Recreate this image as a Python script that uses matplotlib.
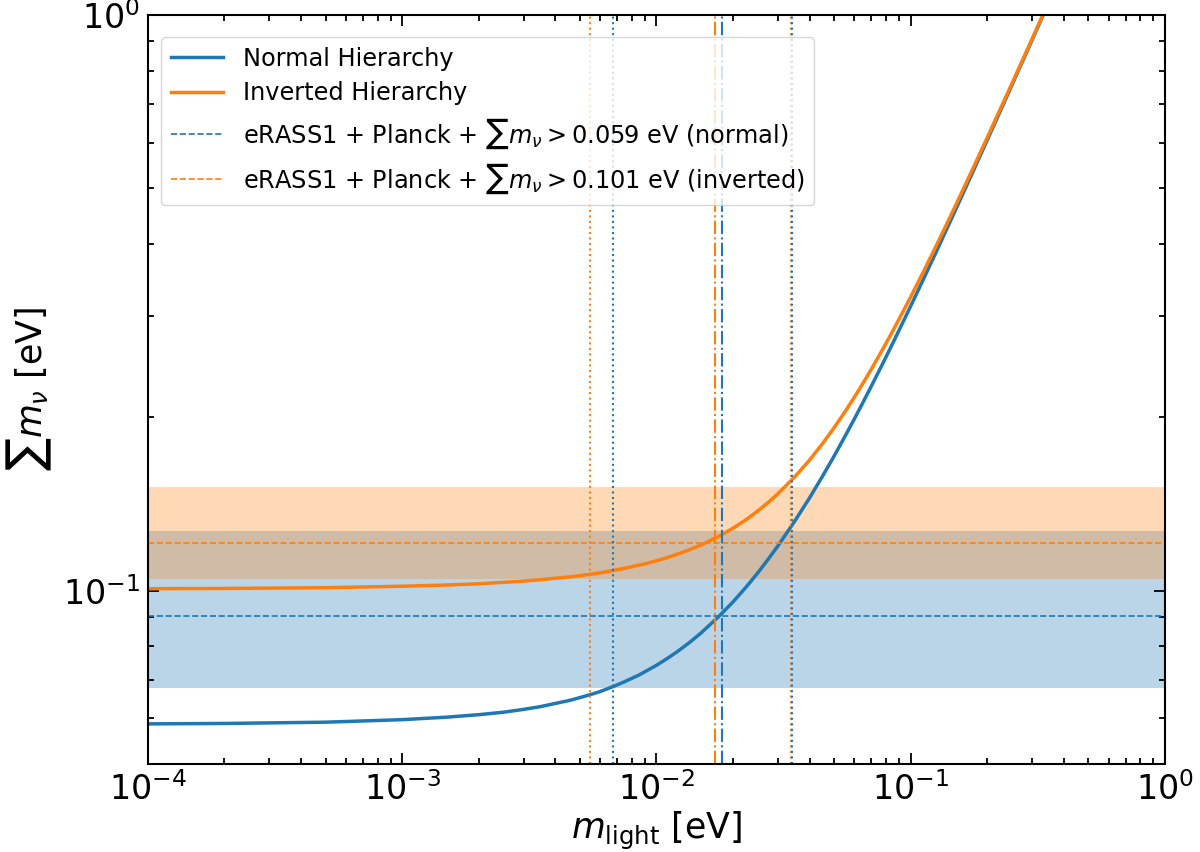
import matplotlib
matplotlib.use("Agg")
import matplotlib.pyplot as plt
from matplotlib.ticker import NullFormatter, LogLocator

# lightest neutrino mass [eV]
m_light = [1e-4, 2e-4, 5e-4, 1e-3, 1.5e-3, 2e-3, 2.5e-3, 3e-3, 3.5e-3, 4e-3,
           4.5e-3, 5e-3, 5.5e-3, 6e-3, 6.5e-3, 7e-3, 7.5e-3, 8.5e-3, 9e-3, 0.01,
           0.011, 0.012, 0.0135, 0.015, 0.0175, 0.02, 0.0225, 0.025, 0.0275, 0.03,
           0.035, 0.04, 0.045, 0.05, 0.055, 0.06, 0.065, 0.07, 0.0775, 0.085,
           0.0925, 0.1, 0.1125, 0.125, 0.1375, 0.15, 0.175, 0.2, 0.25, 0.3, 0.35]
# sum of neutrino masses, normal hierarchy
sum_nh = [0.0587, 0.0588, 0.0591, 0.0597, 0.0603, 0.0609, 0.0615, 0.0622, 0.0629, 0.0637,
          0.0644, 0.0652, 0.0660, 0.0668, 0.0677, 0.0686, 0.0695, 0.0713, 0.0723, 0.0742,
          0.0762, 0.0782, 0.0813, 0.0845, 0.0900, 0.0956, 0.1014, 0.1073, 0.1134, 0.1195,
          0.1321, 0.1449, 0.1581, 0.1714, 0.1850, 0.1987, 0.2126, 0.2266, 0.2477, 0.2690,
          0.2906, 0.3122, 0.3484, 0.3849, 0.4216, 0.4584, 0.5322, 0.6063, 0.7551, 0.9043,
          1.0537]
# sum of neutrino masses, inverted hierarchy
sum_ih = [0.1008, 0.1009, 0.1012, 0.1018, 0.1023, 0.1028, 0.1034, 0.1039, 0.1045, 0.1051,
          0.1056, 0.1062, 0.1068, 0.1074, 0.1081, 0.1087, 0.1094, 0.1107, 0.1113, 0.1127,
          0.1141, 0.1156, 0.1178, 0.1201, 0.1241, 0.1284, 0.1328, 0.1375, 0.1423, 0.1473,
          0.1577, 0.1686, 0.1801, 0.1920, 0.2042, 0.2167, 0.2295, 0.2425, 0.2624, 0.2826,
          0.3032, 0.3239, 0.3590, 0.3945, 0.4304, 0.4665, 0.5392, 0.6125, 0.7600, 0.9084,
          1.0572]

# eRASS1 + Planck constraints: (best, lower, upper)
nh_constraint = [0.0903, 0.0678, 0.1269]
ih_constraint = [0.1209, 0.1048, 0.1516]
# corresponding m_light crossings: (lower, best, upper)
nh_mlight = [0.00672, 0.0181, 0.0342]
ih_mlight = [0.00550, 0.0170, 0.0338]

labels = ["Normal Hierarchy", "Inverted Hierarchy",
          r"eRASS1 + Planck + $\sum m_\nu > 0.059$ eV (normal)",
          r"eRASS1 + Planck + $\sum m_\nu > 0.101$ eV (inverted)"]

blue = "#1f77b4"
orange = "#ff7f0e"

fig = plt.figure(figsize=(12, 8.52), dpi=100)
ax = fig.add_axes([0.1233, 0.1033, 0.8475, 0.8791])

ax.axhspan(nh_constraint[1], nh_constraint[2], color=blue, alpha=0.3, lw=0)
ax.axhspan(ih_constraint[1], ih_constraint[2], color=orange, alpha=0.3, lw=0)

ax.plot(m_light, sum_nh, color=blue, lw=2.5, label=labels[0])
ax.plot(m_light, sum_ih, color=orange, lw=2.5, label=labels[1])
ax.axhline(nh_constraint[0], color=blue, ls="--", lw=1.2, label=labels[2])
ax.axhline(ih_constraint[0], color=orange, ls="--", lw=1.2, label=labels[3])

for c, ml in ((orange, ih_mlight), (blue, nh_mlight)):
    ax.axvline(ml[0], color=c, ls=":", lw=1.5)
    ax.axvline(ml[1], color=c, ls="-.", lw=1.5)
    ax.axvline(ml[2], color=c, ls=":", lw=1.5)

ax.set_xscale("log")
ax.set_yscale("log")
ax.set_xlim(1e-4, 1)
ax.set_ylim(0.05, 1)

ax.yaxis.set_minor_locator(LogLocator(base=10, subs=range(2, 10), numticks=20))
ax.yaxis.set_minor_formatter(NullFormatter())
ax.xaxis.set_minor_formatter(NullFormatter())

ax.tick_params(which="both", direction="in", top=True, right=True, width=1.3)
ax.tick_params(which="major", length=8, labelsize=24, pad=6)
ax.tick_params(which="minor", length=4)
for s in ax.spines.values():
    s.set_linewidth(1.5)

ax.set_xlabel(r"$m_{\rm light}$ [eV]", fontsize=25, labelpad=2)
ax.set_ylabel(r"$\sum m_\nu$ [eV]", fontsize=25, labelpad=6)

ax.legend(loc="upper left", bbox_to_anchor=(0.0128, 0.9706), borderaxespad=0,
          fontsize=17.3, handlelength=2.2, labelspacing=0.45)

fig.savefig("out.png", dpi=100)
